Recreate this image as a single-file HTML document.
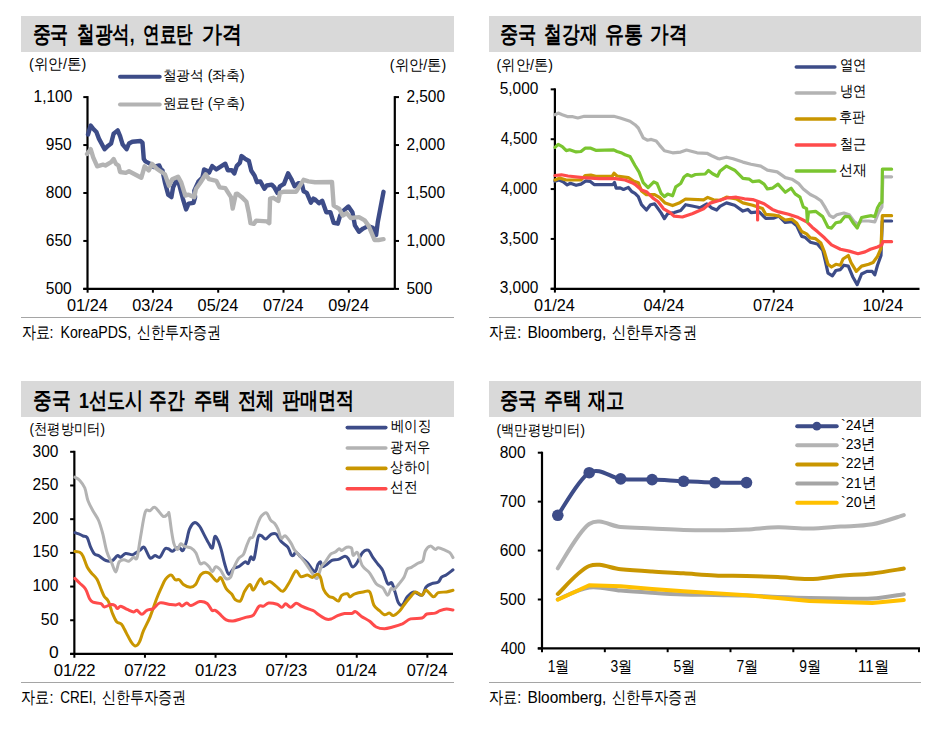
<!DOCTYPE html>
<html><head><meta charset="utf-8"><style>html,body{margin:0;padding:0;background:#fff;}svg{display:block;font-family:'Liberation Sans', sans-serif;}</style></head>
<body><svg width="935" height="735" viewBox="0 0 935 735">
<rect width="935" height="735" fill="#fff"/>
<rect x="21" y="16" width="433" height="36" fill="#d9d9d9"/>
<rect x="489" y="16" width="432" height="36" fill="#d9d9d9"/>
<rect x="21" y="381" width="433" height="36" fill="#d9d9d9"/>
<rect x="489" y="381" width="432" height="36" fill="#d9d9d9"/>
<text x="32.5" y="42.1" font-size="22.67" text-anchor="start" font-weight="bold" fill="#000" textLength="35.85" lengthAdjust="spacingAndGlyphs">중국</text>
<text x="77.2" y="42.1" font-size="22.67" text-anchor="start" font-weight="bold" fill="#000" textLength="57.42" lengthAdjust="spacingAndGlyphs">철광석,</text>
<text x="143.1" y="42.1" font-size="22.67" text-anchor="start" font-weight="bold" fill="#000" textLength="49.67" lengthAdjust="spacingAndGlyphs">연료탄</text>
<text x="202" y="42.1" font-size="22.67" text-anchor="start" font-weight="bold" fill="#000" textLength="39.93" lengthAdjust="spacingAndGlyphs">가격</text>
<text x="500" y="42.1" font-size="22.67" text-anchor="start" font-weight="bold" fill="#000" textLength="36.37" lengthAdjust="spacingAndGlyphs">중국</text>
<text x="544.3" y="42.1" font-size="22.67" text-anchor="start" font-weight="bold" fill="#000" textLength="53.14" lengthAdjust="spacingAndGlyphs">철강재</text>
<text x="604.8" y="42.1" font-size="22.67" text-anchor="start" font-weight="bold" fill="#000" textLength="38.07" lengthAdjust="spacingAndGlyphs">유통</text>
<text x="650.1" y="42.1" font-size="22.67" text-anchor="start" font-weight="bold" fill="#000" textLength="37.18" lengthAdjust="spacingAndGlyphs">가격</text>
<text x="32.8" y="407.9" font-size="22.67" text-anchor="start" font-weight="bold" fill="#000" textLength="37.42" lengthAdjust="spacingAndGlyphs">중국</text>
<text x="79" y="407.9" font-size="22.67" text-anchor="start" font-weight="bold" fill="#000" textLength="64.38" lengthAdjust="spacingAndGlyphs">1선도시</text>
<text x="149.3" y="407.9" font-size="22.67" text-anchor="start" font-weight="bold" fill="#000" textLength="35.34" lengthAdjust="spacingAndGlyphs">주간</text>
<text x="193.5" y="407.9" font-size="22.67" text-anchor="start" font-weight="bold" fill="#000" textLength="36.7" lengthAdjust="spacingAndGlyphs">주택</text>
<text x="237.5" y="407.9" font-size="22.67" text-anchor="start" font-weight="bold" fill="#000" textLength="36.79" lengthAdjust="spacingAndGlyphs">전체</text>
<text x="282" y="407.9" font-size="22.67" text-anchor="start" font-weight="bold" fill="#000" textLength="72.48" lengthAdjust="spacingAndGlyphs">판매면적</text>
<text x="500" y="407.7" font-size="22.67" text-anchor="start" font-weight="bold" fill="#000" textLength="36.76" lengthAdjust="spacingAndGlyphs">중국</text>
<text x="544.2" y="407.7" font-size="22.67" text-anchor="start" font-weight="bold" fill="#000" textLength="37.84" lengthAdjust="spacingAndGlyphs">주택</text>
<text x="588.1" y="407.7" font-size="22.67" text-anchor="start" font-weight="bold" fill="#000" textLength="36.69" lengthAdjust="spacingAndGlyphs">재고</text>
<line x1="21" y1="317.5" x2="454" y2="317.5" stroke="#A5A5A5" stroke-width="1"/>
<line x1="489" y1="317.5" x2="921" y2="317.5" stroke="#A5A5A5" stroke-width="1"/>
<line x1="21" y1="682.5" x2="454" y2="682.5" stroke="#A5A5A5" stroke-width="1"/>
<line x1="489" y1="682.5" x2="921" y2="682.5" stroke="#A5A5A5" stroke-width="1"/>
<line x1="87.5" y1="96.1" x2="87.5" y2="288.9" stroke="#000" stroke-width="2.2"/>
<line x1="83.3" y1="288.9" x2="394.8" y2="288.9" stroke="#000" stroke-width="2.2"/>
<line x1="394.8" y1="96.1" x2="394.8" y2="288.9" stroke="#000" stroke-width="2.2"/>
<line x1="83.3" y1="97.1" x2="87.5" y2="97.1" stroke="#000" stroke-width="2"/>
<line x1="394.8" y1="97.1" x2="399" y2="97.1" stroke="#000" stroke-width="2"/>
<line x1="83.3" y1="145.05" x2="87.5" y2="145.05" stroke="#000" stroke-width="2"/>
<line x1="394.8" y1="145.05" x2="399" y2="145.05" stroke="#000" stroke-width="2"/>
<line x1="83.3" y1="193.0" x2="87.5" y2="193.0" stroke="#000" stroke-width="2"/>
<line x1="394.8" y1="193.0" x2="399" y2="193.0" stroke="#000" stroke-width="2"/>
<line x1="83.3" y1="240.95000000000002" x2="87.5" y2="240.95000000000002" stroke="#000" stroke-width="2"/>
<line x1="394.8" y1="240.95000000000002" x2="399" y2="240.95000000000002" stroke="#000" stroke-width="2"/>
<line x1="83.3" y1="288.9" x2="87.5" y2="288.9" stroke="#000" stroke-width="2"/>
<line x1="394.8" y1="288.9" x2="399" y2="288.9" stroke="#000" stroke-width="2"/>
<line x1="87.6" y1="288.9" x2="87.6" y2="292.7" stroke="#000" stroke-width="2"/>
<line x1="152.89999999999998" y1="288.9" x2="152.89999999999998" y2="292.7" stroke="#000" stroke-width="2"/>
<line x1="218.2" y1="288.9" x2="218.2" y2="292.7" stroke="#000" stroke-width="2"/>
<line x1="283.5" y1="288.9" x2="283.5" y2="292.7" stroke="#000" stroke-width="2"/>
<line x1="348.79999999999995" y1="288.9" x2="348.79999999999995" y2="292.7" stroke="#000" stroke-width="2"/>
<polyline points="120.0,76.8 159.7,76.8" fill="none" stroke="#3D4C88" stroke-width="4" stroke-linejoin="round" stroke-linecap="round" />
<polyline points="120.0,104.6 159.7,104.6" fill="none" stroke="#B3B3B3" stroke-width="4" stroke-linejoin="round" stroke-linecap="round" />
<polyline points="88.0,134.5 90.7,125.5 93.2,128.8 96.4,132.0 98.9,138.6 104.6,149.2 107.9,145.9 111.1,143.5 113.6,133.7 117.7,130.4 120.1,136.1 122.6,144.3 126.6,149.2 129.0,143.5 132.3,141.8 140.5,141.0 142.5,142.7 143.8,159.0 145.4,161.4 150.3,163.9 153.6,167.0 159.3,165.5 161.7,171.2 162.4,170.2 164.9,182.4 168.2,194.7 171.4,197.1 173.1,187.3 176.3,180.8 178.8,183.3 182.9,198.8 186.1,209.4 188.6,203.7 193.5,202.9 195.1,197.1 194.3,190.6 198.4,181.6 202.4,177.6 204.1,169.4 207.3,171.0 209.0,172.7 212.2,166.1 216.3,169.4 225.3,163.7 227.8,170.2 231.8,170.2 234.3,173.5 236.7,166.1 239.9,162.7 241.5,156.1 244.8,158.6 248.9,161.0 251.3,170.8 254.6,175.7 257.0,182.2 260.3,181.4 264.4,188.8 266.8,185.5 271.7,184.7 274.2,187.1 277.4,192.9 279.9,186.3 284.0,183.9 288.1,173.3 291.3,179.0 294.6,186.3 298.7,183.1 301.9,183.9 303.6,191.2 306.8,192.9 310.9,202.7 313.4,198.6 315.0,200.2 314.9,199.2 319.0,203.3 322.2,200.8 326.3,212.2 330.4,212.2 333.7,222.9 337.8,223.7 340.2,215.5 343.5,210.6 348.4,206.5 352.4,212.2 354.9,225.3 359.0,231.8 363.1,228.6 368.0,226.1 372.9,227.8 376.1,235.1 377.8,222.0 383.5,191.8" fill="none" stroke="#3D4C88" stroke-width="4.4" stroke-linejoin="round" stroke-linecap="round" />
<polyline points="87.0,154.0 90.7,149.2 93.2,157.3 97.2,166.3 103.0,164.7 105.4,165.5 111.1,162.2 113.6,159.0 116.0,163.9 118.5,165.5 120.1,172.0 125.8,172.9 129.0,171.2 141.3,177.8 144.6,166.3 148.7,170.4 152.0,163.9 156.8,168.8 160.0,171.0 164.9,174.3 169.0,185.7 172.2,179.2 178.0,176.7 181.2,182.4 185.3,195.5 188.6,194.7 194.3,197.1 195.9,189.0 200.0,183.3 205.7,174.3 209.0,179.2 216.3,180.8 219.6,187.3 225.3,188.2 227.8,192.2 231.0,197.1 232.7,208.6 235.9,193.9 237.4,193.7 241.5,196.9 246.4,201.8 248.9,213.3 250.5,223.1 253.8,223.9 256.2,220.6 266.8,221.4 269.3,223.1 270.1,198.6 273.4,197.8 278.3,201.0 279.9,192.9 284.0,191.7 296.2,191.7 299.5,186.3 303.6,179.8 308.5,181.4 315.0,182.2 332.0,182.0 333.7,205.7 339.4,209.0 342.7,215.5 346.7,213.1 350.8,218.0 359.0,217.1 364.7,220.4 368.8,226.1 374.5,240.0 378.6,240.0 383.5,239.2" fill="none" stroke="#B3B3B3" stroke-width="4.4" stroke-linejoin="round" stroke-linecap="round" />
<line x1="554.9" y1="88.35" x2="554.9" y2="288.8" stroke="#000" stroke-width="2.2"/>
<line x1="550.6999999999999" y1="288.8" x2="919.5" y2="288.8" stroke="#000" stroke-width="2.2"/>
<line x1="550.6999999999999" y1="89.35" x2="554.9" y2="89.35" stroke="#000" stroke-width="2"/>
<line x1="550.6999999999999" y1="139.20999999999998" x2="554.9" y2="139.20999999999998" stroke="#000" stroke-width="2"/>
<line x1="550.6999999999999" y1="189.07" x2="554.9" y2="189.07" stroke="#000" stroke-width="2"/>
<line x1="550.6999999999999" y1="238.92999999999998" x2="554.9" y2="238.92999999999998" stroke="#000" stroke-width="2"/>
<line x1="550.6999999999999" y1="288.78999999999996" x2="554.9" y2="288.78999999999996" stroke="#000" stroke-width="2"/>
<line x1="554.9" y1="288.8" x2="554.9" y2="292.6" stroke="#000" stroke-width="2"/>
<line x1="664.3" y1="288.8" x2="664.3" y2="292.6" stroke="#000" stroke-width="2"/>
<line x1="773.7" y1="288.8" x2="773.7" y2="292.6" stroke="#000" stroke-width="2"/>
<line x1="883.1" y1="288.8" x2="883.1" y2="292.6" stroke="#000" stroke-width="2"/>
<polyline points="796.3,67.0 834.8,67.0" fill="none" stroke="#3D4C88" stroke-width="3.6" stroke-linejoin="round" stroke-linecap="round" />
<polyline points="796.3,93.0 834.8,93.0" fill="none" stroke="#B3B3B3" stroke-width="3.6" stroke-linejoin="round" stroke-linecap="round" />
<polyline points="796.3,119.0 834.8,119.0" fill="none" stroke="#C99600" stroke-width="3.6" stroke-linejoin="round" stroke-linecap="round" />
<polyline points="796.3,145.0 834.8,145.0" fill="none" stroke="#FF4B4B" stroke-width="3.6" stroke-linejoin="round" stroke-linecap="round" />
<polyline points="796.3,171.0 834.8,171.0" fill="none" stroke="#7AC530" stroke-width="3.6" stroke-linejoin="round" stroke-linecap="round" />
<polyline points="555.0,181.3 559.0,180.0 563.1,181.7 567.2,184.9 570.4,183.3 576.1,185.3 581.0,184.1 585.9,180.9 590.0,181.3 594.1,184.6 612.9,184.6 614.5,182.5 616.2,188.2 620.2,187.9 623.5,189.5 628.4,187.4 631.7,191.5 635.0,193.3 638.3,196.6 641.5,204.7 646.4,210.0 650.5,204.7 654.6,203.9 661.1,212.9 664.4,218.6 667.7,213.7 674.2,212.6 680.7,210.5 685.6,204.7 692.2,206.0 700.3,207.7 706.9,203.9 711.8,208.0 716.7,210.0 719.9,206.4 726.5,202.9 734.7,205.3 742.9,211.1 747.8,209.4 751.0,212.7 759.2,211.9 765.7,218.4 773.9,218.1 778.8,216.0 785.3,222.5 791.9,221.7 796.8,225.8 801.7,236.4 804.9,237.2 810.3,242.2 817.4,244.0 822.7,250.2 825.3,260.8 828.0,273.2 832.4,275.8 835.9,270.5 840.4,269.6 843.9,265.2 848.3,266.1 852.7,276.7 857.2,284.6 861.6,274.0 866.9,271.4 872.2,271.4 874.8,274.9 877.5,265.2 881.0,255.5 882.3,221.0 891.6,221.0" fill="none" stroke="#3D4C88" stroke-width="3.2" stroke-linejoin="round" stroke-linecap="round" />
<polyline points="555.0,114.7 558.2,113.1 562.3,114.7 568.0,116.7 572.9,116.7 577.8,118.0 584.3,116.3 613.7,116.3 620.2,118.0 630.0,121.2 635.0,124.7 638.3,128.0 643.2,137.8 647.3,140.2 651.3,139.4 656.2,141.0 659.5,145.1 664.4,150.8 672.6,152.8 680.7,152.1 686.5,150.0 697.1,152.8 706.9,153.3 711.8,155.7 718.3,158.7 720.0,158.8 726.5,157.2 733.1,158.8 742.9,162.1 751.0,164.2 760.8,166.1 767.4,170.2 777.2,171.9 785.3,177.6 791.9,179.2 798.4,183.3 803.3,189.0 810.3,194.5 815.6,197.1 820.9,200.7 825.3,207.7 829.8,215.7 833.3,217.5 836.8,214.8 843.9,213.0 849.2,214.8 854.5,221.9 858.0,224.0 861.6,221.0 868.7,221.0 874.8,221.9 878.4,213.0 881.9,206.9 882.8,176.8 891.6,176.8" fill="none" stroke="#B3B3B3" stroke-width="3.2" stroke-linejoin="round" stroke-linecap="round" />
<polyline points="555.0,180.0 559.8,178.1 566.3,180.0 581.0,180.0 585.1,175.5 590.8,175.1 595.7,176.4 612.1,176.4 614.0,173.2 617.0,176.0 628.4,177.6 633.3,180.9 638.3,182.7 641.5,190.9 646.4,194.6 654.6,194.6 659.5,197.4 665.2,203.1 672.6,205.6 679.1,203.1 685.6,199.0 703.6,199.8 707.7,197.4 713.4,199.8 720.0,200.4 726.5,197.2 736.3,198.8 742.9,202.9 752.7,205.3 762.5,208.6 765.7,214.3 773.9,215.1 778.8,216.0 785.3,220.0 791.9,219.2 796.8,223.3 801.7,231.5 806.6,233.9 810.3,237.8 815.6,238.7 820.9,243.1 824.4,251.9 828.0,264.3 831.5,267.0 835.9,264.3 840.4,265.2 843.0,259.0 848.3,255.5 851.0,262.5 856.3,271.4 861.6,266.1 868.7,264.3 873.1,262.5 877.5,256.4 881.0,248.4 882.3,215.7 891.6,215.7" fill="none" stroke="#C99600" stroke-width="3.2" stroke-linejoin="round" stroke-linecap="round" />
<polyline points="555.0,175.5 561.4,174.8 568.0,176.0 582.7,177.6 599.0,178.7 615.3,178.7 625.1,180.0 633.3,183.3 635.0,184.3 641.5,190.0 646.4,191.7 653.0,198.2 657.9,201.5 663.6,208.8 669.3,212.1 674.2,216.2 682.4,217.0 692.2,213.7 703.6,208.8 710.1,203.1 718.3,200.7 726.5,198.0 736.3,197.2 744.5,198.8 752.7,199.6 757.6,201.3 757.6,220.0 757.6,201.3 764.1,203.7 772.3,209.4 778.8,211.9 788.6,214.3 798.4,217.6 806.6,221.7 812.1,227.2 817.4,231.6 824.4,237.8 831.5,244.9 840.4,249.3 849.2,251.1 858.0,253.7 865.1,251.9 870.4,249.3 877.5,247.0 881.9,244.9 882.8,241.7 891.6,241.7" fill="none" stroke="#FF4B4B" stroke-width="3.2" stroke-linejoin="round" stroke-linecap="round" />
<polyline points="555.0,147.4 558.2,144.4 562.3,146.6 566.3,150.6 569.6,149.8 576.1,151.9 581.0,151.5 585.1,148.2 590.8,148.2 595.7,150.3 613.7,149.8 617.0,151.5 621.9,153.1 625.1,154.7 630.0,156.4 635.0,165.5 639.1,172.1 643.2,182.7 648.1,187.6 653.8,181.9 657.1,183.5 661.1,193.3 664.4,196.6 667.7,194.1 672.6,195.8 675.8,186.8 680.7,183.5 684.0,177.0 687.3,174.5 691.4,176.2 695.4,174.5 705.2,174.0 708.5,170.4 712.6,173.7 717.5,176.2 719.9,171.3 726.5,166.1 734.7,170.2 742.9,178.4 749.4,179.2 752.7,181.7 759.2,180.8 764.1,184.1 767.4,189.0 772.3,188.2 778.0,184.1 785.3,192.3 791.1,188.2 795.1,193.9 800.0,197.2 803.3,207.0 806.6,208.6 807.4,221.7 808.5,212.2 815.6,211.3 822.7,216.6 828.0,227.2 831.5,228.1 835.9,222.8 840.4,221.9 844.8,216.6 849.2,216.6 853.6,223.6 857.2,228.1 861.6,217.5 866.0,216.6 871.3,215.7 874.8,216.6 877.5,207.7 880.1,203.3 881.9,202.4 882.4,169.2 891.6,169.2" fill="none" stroke="#7AC530" stroke-width="3.2" stroke-linejoin="round" stroke-linecap="round" />
<line x1="74.35" y1="450.8" x2="74.35" y2="653.95" stroke="#000" stroke-width="2.2"/>
<line x1="70.14999999999999" y1="653.95" x2="453" y2="653.95" stroke="#000" stroke-width="2.2"/>
<line x1="70.14999999999999" y1="451.8" x2="74.35" y2="451.8" stroke="#000" stroke-width="2"/>
<line x1="70.14999999999999" y1="485.49" x2="74.35" y2="485.49" stroke="#000" stroke-width="2"/>
<line x1="70.14999999999999" y1="519.1800000000001" x2="74.35" y2="519.1800000000001" stroke="#000" stroke-width="2"/>
<line x1="70.14999999999999" y1="552.87" x2="74.35" y2="552.87" stroke="#000" stroke-width="2"/>
<line x1="70.14999999999999" y1="586.56" x2="74.35" y2="586.56" stroke="#000" stroke-width="2"/>
<line x1="70.14999999999999" y1="620.25" x2="74.35" y2="620.25" stroke="#000" stroke-width="2"/>
<line x1="70.14999999999999" y1="653.94" x2="74.35" y2="653.94" stroke="#000" stroke-width="2"/>
<line x1="74.35" y1="653.95" x2="74.35" y2="657.75" stroke="#000" stroke-width="2"/>
<line x1="144.95" y1="653.95" x2="144.95" y2="657.75" stroke="#000" stroke-width="2"/>
<line x1="215.54999999999998" y1="653.95" x2="215.54999999999998" y2="657.75" stroke="#000" stroke-width="2"/>
<line x1="286.15" y1="653.95" x2="286.15" y2="657.75" stroke="#000" stroke-width="2"/>
<line x1="356.75" y1="653.95" x2="356.75" y2="657.75" stroke="#000" stroke-width="2"/>
<line x1="427.35" y1="653.95" x2="427.35" y2="657.75" stroke="#000" stroke-width="2"/>
<polyline points="347.3,427.6 385.8,427.6" fill="none" stroke="#3D4C88" stroke-width="3.6" stroke-linejoin="round" stroke-linecap="round" />
<polyline points="347.3,448.0 385.8,448.0" fill="none" stroke="#B3B3B3" stroke-width="3.6" stroke-linejoin="round" stroke-linecap="round" />
<polyline points="347.3,468.4 385.8,468.4" fill="none" stroke="#C99600" stroke-width="3.6" stroke-linejoin="round" stroke-linecap="round" />
<polyline points="347.3,488.8 385.8,488.8" fill="none" stroke="#FF4B4B" stroke-width="3.6" stroke-linejoin="round" stroke-linecap="round" />
<path d="M74.9,532.7 C75.7,533.0 78.4,533.8 79.8,534.3 C81.2,534.8 81.9,535.5 83.1,536.0 C84.3,536.5 86.0,535.8 87.2,537.6 C88.4,539.4 89.2,543.9 90.4,546.6 C91.6,549.3 93.1,552.5 94.5,554.0 C95.9,555.5 96.7,554.5 98.6,555.6 C100.5,556.7 103.6,559.7 105.9,560.5 C108.2,561.3 110.6,561.3 112.5,560.5 C114.4,559.7 116.0,556.1 117.4,555.6 C118.8,555.1 119.3,557.6 120.7,557.2 C122.1,556.9 123.7,553.9 125.6,553.5 C127.5,553.1 130.5,554.9 132.1,554.8 C133.7,554.7 134.0,553.9 135.4,553.1 C136.8,552.3 138.8,550.9 140.3,549.9 C141.8,548.9 142.7,546.0 144.3,547.4 C145.9,548.8 148.3,556.6 150.1,558.0 C151.9,559.4 153.4,555.7 155.0,555.6 C156.6,555.5 158.3,558.3 159.9,557.2 C161.5,556.1 163.4,550.4 164.8,549.0 C166.2,547.6 167.0,548.4 168.3,548.8 C169.6,549.2 171.1,551.4 172.4,551.3 C173.8,551.2 175.2,548.5 176.4,548.0 C177.6,547.5 178.6,547.6 179.7,548.0 C180.8,548.4 181.9,551.5 183.0,550.5 C184.1,549.5 185.1,545.8 186.2,542.3 C187.3,538.8 188.1,532.5 189.5,529.2 C190.9,525.9 192.8,523.2 194.4,522.7 C196.0,522.2 197.7,523.9 199.3,525.9 C200.9,527.9 202.6,531.9 204.2,534.9 C205.8,537.9 207.7,541.7 209.1,543.9 C210.5,546.1 211.4,549.2 212.4,548.0 C213.4,546.8 213.9,537.8 214.8,536.6 C215.8,535.4 217.0,538.4 218.1,540.7 C219.2,543.0 220.3,546.7 221.4,550.5 C222.5,554.3 223.4,559.5 224.6,563.5 C225.8,567.5 227.2,573.4 228.7,574.2 C230.2,575.0 232.0,569.6 233.6,568.4 C235.2,567.2 236.6,567.9 238.5,566.8 C240.4,565.7 243.5,562.4 245.1,561.9 C246.7,561.4 247.4,564.3 248.3,563.5 C249.2,562.7 249.8,557.8 250.8,557.0 C251.8,556.2 252.9,561.9 254.1,558.6 C255.3,555.3 256.9,541.2 258.1,537.4 C259.3,533.6 260.1,535.5 261.4,535.8 C262.7,536.1 264.0,539.3 265.7,539.0 C267.4,538.7 269.6,534.9 271.4,534.1 C273.2,533.3 274.7,532.9 276.3,534.1 C277.9,535.3 279.3,539.3 281.2,541.5 C283.1,543.7 286.2,545.0 287.8,547.2 C289.4,549.4 290.1,553.1 291.0,554.5 C291.9,555.9 292.7,555.8 293.5,555.4 C294.3,555.0 294.7,551.8 295.9,552.1 C297.1,552.4 298.9,555.2 300.8,557.0 C302.7,558.8 305.1,560.2 307.4,562.7 C309.7,565.2 312.9,571.4 314.7,571.7 C316.5,572.0 317.0,565.9 318.0,564.3 C319.0,562.7 319.8,561.5 320.5,561.9 C321.2,562.3 321.0,566.4 322.1,566.8 C323.2,567.2 325.4,565.4 327.0,564.3 C328.6,563.2 330.0,561.1 331.9,560.3 C333.8,559.5 336.2,560.1 338.4,559.4 C340.6,558.7 343.4,556.3 345.0,556.2 C346.6,556.1 347.0,556.8 348.2,558.6 C349.4,560.4 350.9,566.0 352.3,566.8 C353.7,567.6 354.9,565.6 356.6,563.3 C358.3,560.9 360.5,554.9 362.4,552.7 C364.3,550.5 366.3,549.4 368.1,550.2 C369.9,551.0 371.4,555.3 373.0,557.6 C374.6,559.9 376.3,561.9 377.9,564.1 C379.5,566.3 381.2,567.4 382.8,570.7 C384.4,574.0 386.2,581.7 387.7,583.7 C389.2,585.7 390.6,581.5 391.8,582.9 C393.0,584.3 393.9,588.6 395.0,591.9 C396.1,595.2 397.1,600.3 398.3,602.5 C399.5,604.7 400.9,606.0 402.4,605.0 C403.9,604.0 405.4,599.0 407.3,596.8 C409.2,594.6 411.4,592.2 413.8,591.9 C416.2,591.6 419.9,596.0 422.0,595.2 C424.1,594.4 424.5,588.9 426.1,587.0 C427.7,585.1 429.8,584.5 431.8,583.7 C433.8,582.9 436.7,583.2 438.3,582.1 C439.9,581.0 440.2,578.4 441.6,577.2 C443.0,576.0 444.6,575.9 446.5,574.7 C448.4,573.5 451.9,570.6 453.0,569.8" fill="none" stroke="#3D4C88" stroke-width="3" stroke-linejoin="round" stroke-linecap="round"/>
<path d="M74.9,477.2 C75.7,477.7 78.2,478.6 79.8,480.4 C81.4,482.2 83.3,484.4 84.7,487.8 C86.1,491.2 86.6,497.0 88.0,500.8 C89.4,504.6 91.1,507.4 92.9,510.7 C94.7,514.0 97.0,516.7 98.6,520.5 C100.2,524.3 101.3,528.3 102.7,533.5 C104.1,538.7 105.3,546.6 106.8,551.5 C108.3,556.4 110.2,559.5 111.7,562.9 C113.2,566.3 114.6,572.0 115.8,571.9 C117.0,571.8 117.7,564.1 119.0,562.1 C120.3,560.1 122.3,559.8 123.9,559.7 C125.5,559.6 127.2,561.7 128.8,561.3 C130.4,560.9 132.3,557.8 133.7,557.2 C135.1,556.7 135.9,561.1 137.0,558.0 C138.1,554.9 138.9,546.0 140.3,538.4 C141.7,530.8 143.6,516.9 145.2,512.3 C146.8,507.7 148.5,511.5 150.1,510.7 C151.7,509.9 152.8,506.4 155.0,507.4 C157.2,508.3 160.9,515.3 163.1,516.4 C165.3,517.5 167.0,514.3 168.0,513.9 C169.0,513.5 168.5,510.9 169.1,513.7 C169.7,516.5 170.7,525.8 171.5,530.8 C172.3,535.8 173.0,540.8 174.0,543.9 C175.0,547.0 176.2,549.6 177.3,549.6 C178.4,549.6 179.3,544.4 180.5,543.9 C181.7,543.4 182.8,545.7 184.6,546.4 C186.4,547.1 189.2,546.9 191.1,548.0 C193.0,549.1 194.5,550.3 196.0,552.9 C197.5,555.5 198.7,561.9 200.1,563.5 C201.5,565.1 202.7,562.2 204.2,562.7 C205.7,563.2 207.7,565.3 209.1,566.8 C210.5,568.3 211.3,571.7 212.4,571.7 C213.5,571.7 214.3,567.1 215.7,566.8 C217.1,566.5 219.0,568.2 220.6,570.1 C222.2,572.0 223.9,577.0 225.5,578.2 C227.1,579.4 229.1,579.0 230.4,577.4 C231.8,575.8 232.2,571.5 233.6,568.4 C234.9,565.3 236.9,560.9 238.5,558.6 C240.1,556.3 242.0,556.7 243.4,554.5 C244.8,552.3 245.6,548.3 246.7,545.6 C247.8,542.9 248.9,539.7 250.0,538.2 C251.1,536.7 251.8,539.2 253.2,536.6 C254.5,534.0 256.7,526.1 258.1,522.7 C259.5,519.3 260.0,517.7 261.4,516.1 C262.8,514.5 265.0,512.2 266.5,512.9 C268.0,513.6 269.2,518.4 270.6,520.2 C272.0,522.0 273.5,522.0 274.7,523.5 C275.9,525.0 276.9,526.8 278.0,529.2 C279.1,531.7 280.0,537.1 281.2,538.2 C282.4,539.3 283.7,535.0 285.3,535.8 C286.9,536.6 289.5,540.8 291.0,543.1 C292.5,545.4 292.9,547.6 294.3,549.6 C295.7,551.6 297.3,553.1 299.2,555.4 C301.1,557.7 303.6,560.5 305.8,563.5 C308.0,566.5 310.4,570.8 312.3,573.3 C314.2,575.8 315.7,579.3 317.2,578.2 C318.7,577.1 319.9,569.5 321.3,566.8 C322.7,564.1 323.9,563.9 325.4,561.9 C326.9,559.9 328.7,556.1 330.3,554.5 C331.9,552.9 333.7,553.1 335.2,552.1 C336.7,551.1 338.1,549.1 339.2,548.8 C340.3,548.5 340.5,550.8 341.7,550.5 C342.9,550.2 345.0,547.6 346.6,547.2 C348.2,546.8 350.4,546.6 351.5,548.0 C352.6,549.4 352.1,554.6 353.1,555.4 C354.1,556.2 355.9,551.0 357.5,552.7 C359.1,554.4 360.4,562.4 362.4,565.8 C364.4,569.2 367.4,570.1 369.7,573.1 C372.0,576.1 374.0,581.2 376.2,583.7 C378.4,586.2 380.9,585.9 382.8,587.8 C384.7,589.7 386.3,595.1 387.7,595.2 C389.1,595.3 389.9,589.6 391.0,588.6 C392.1,587.6 392.8,590.2 394.2,589.4 C395.6,588.6 397.5,585.7 399.1,583.7 C400.7,581.7 402.6,579.7 404.0,577.2 C405.4,574.8 406.1,570.6 407.3,569.0 C408.5,567.4 409.6,568.4 411.4,567.4 C413.2,566.4 416.0,564.4 417.9,563.3 C419.8,562.2 421.6,562.8 422.8,560.8 C424.0,558.8 424.1,553.5 425.3,551.0 C426.5,548.5 428.6,546.4 430.2,546.1 C431.8,545.8 433.8,549.1 435.1,549.4 C436.5,549.7 436.7,547.7 438.3,547.8 C439.9,547.9 443.0,549.4 444.9,550.2 C446.8,551.0 448.4,551.5 449.8,552.7 C451.2,553.9 452.5,556.8 453.0,557.6" fill="none" stroke="#B3B3B3" stroke-width="3" stroke-linejoin="round" stroke-linecap="round"/>
<path d="M74.9,551.4 C75.7,551.5 78.4,551.5 79.8,552.3 C81.2,553.1 81.9,553.8 83.1,556.3 C84.3,558.8 85.8,564.3 87.2,567.0 C88.6,569.7 89.6,570.7 91.2,572.7 C92.8,574.7 95.4,576.5 97.0,579.2 C98.6,581.9 99.8,586.1 101.0,589.0 C102.2,591.9 103.1,594.4 104.3,596.4 C105.5,598.4 107.0,598.4 108.4,601.3 C109.8,604.1 111.1,610.1 112.5,613.5 C113.9,616.9 115.1,619.9 116.6,621.7 C118.1,623.5 119.9,622.3 121.5,624.2 C123.1,626.1 124.8,630.1 126.4,633.1 C128.0,636.1 129.8,640.0 131.3,642.1 C132.8,644.2 134.1,645.9 135.4,645.9 C136.8,645.9 138.1,644.6 139.4,642.1 C140.8,639.6 141.7,634.9 143.5,630.7 C145.3,626.5 147.9,622.1 150.1,616.8 C152.3,611.5 154.7,603.7 156.6,598.8 C158.5,593.9 160.0,590.7 161.5,587.4 C163.0,584.1 164.0,581.3 165.6,579.2 C167.2,577.1 169.5,574.9 171.1,575.0 C172.7,575.1 173.8,578.9 175.2,579.7 C176.6,580.5 177.9,578.9 179.3,579.7 C180.7,580.5 181.6,583.2 183.4,584.5 C185.2,585.8 188.2,587.2 190.2,587.2 C192.2,587.2 193.8,586.6 195.6,584.5 C197.4,582.4 198.9,576.2 201.1,574.3 C203.2,572.4 205.9,571.8 208.5,572.9 C211.1,574.0 214.6,580.3 216.7,581.1 C218.8,581.9 219.2,576.5 220.8,577.7 C222.4,579.0 224.4,585.9 226.2,588.6 C228.0,591.3 230.2,592.2 231.7,594.0 C233.2,595.8 233.6,598.4 235.1,599.5 C236.6,600.6 238.9,602.2 240.5,600.8 C242.1,599.4 243.0,594.0 244.6,591.3 C246.2,588.6 248.5,584.7 250.0,584.5 C251.5,584.3 251.7,590.8 253.4,589.9 C255.1,589.0 258.4,580.0 260.2,579.0 C262.0,578.0 262.5,583.6 264.1,584.0 C265.7,584.4 267.8,581.1 269.8,581.5 C271.8,581.9 274.1,584.8 276.3,586.4 C278.5,588.0 280.7,592.0 282.9,591.3 C285.1,590.6 287.2,585.7 289.4,582.3 C291.6,578.9 294.0,571.8 295.9,570.9 C297.8,570.0 298.9,575.9 300.8,576.6 C302.7,577.3 305.5,574.9 307.4,575.0 C309.3,575.1 310.7,577.5 312.3,577.4 C313.9,577.3 315.8,574.2 317.2,574.2 C318.6,574.2 319.4,574.8 320.5,577.4 C321.6,580.0 322.3,586.6 323.7,589.7 C325.1,592.8 327.0,594.9 328.6,596.2 C330.2,597.6 331.9,597.0 333.5,597.8 C335.1,598.6 337.0,601.5 338.4,601.1 C339.8,600.7 340.2,596.6 341.7,595.4 C343.2,594.2 346.0,593.5 347.4,593.8 C348.8,594.1 348.7,597.0 349.9,597.0 C351.1,597.0 352.6,594.6 354.8,593.8 C357.0,592.9 360.7,592.2 363.2,591.9 C365.7,591.6 367.9,589.7 369.7,591.9 C371.5,594.1 372.2,601.9 373.8,605.0 C375.4,608.1 377.7,609.1 379.5,610.7 C381.3,612.3 382.8,614.4 384.4,614.8 C386.0,615.2 387.8,613.0 389.3,613.1 C390.8,613.2 391.8,615.9 393.4,615.6 C395.0,615.3 397.3,613.3 399.1,611.5 C400.9,609.7 402.1,607.5 404.0,605.0 C405.9,602.5 408.7,599.0 410.6,596.8 C412.5,594.6 413.6,592.2 415.5,591.9 C417.4,591.6 420.2,595.5 422.0,595.2 C423.8,594.9 424.2,590.0 426.1,590.3 C428.0,590.6 431.4,596.4 433.4,596.8 C435.4,597.2 436.1,593.5 438.3,592.7 C440.5,591.9 444.1,592.3 446.5,591.9 C448.9,591.5 451.9,590.6 453.0,590.3" fill="none" stroke="#C99600" stroke-width="3" stroke-linejoin="round" stroke-linecap="round"/>
<path d="M74.9,578.4 C75.7,579.2 78.0,581.5 79.8,583.3 C81.6,585.1 83.9,586.4 85.5,589.0 C87.1,591.6 88.4,596.6 89.6,598.8 C90.8,601.0 91.0,601.3 92.9,602.1 C94.8,602.9 99.1,602.9 101.0,603.7 C102.9,604.5 102.7,606.9 104.3,607.0 C105.9,607.1 109.0,604.8 110.8,604.5 C112.6,604.2 113.8,604.7 114.9,605.4 C116.0,606.1 116.4,608.5 117.4,608.6 C118.4,608.7 119.1,606.1 120.7,606.2 C122.3,606.3 125.0,608.5 127.2,609.4 C129.4,610.3 132.1,611.8 133.7,611.9 C135.3,612.0 135.6,609.9 137.0,610.3 C138.4,610.7 140.3,614.3 141.9,614.3 C143.5,614.3 144.9,611.2 146.8,610.3 C148.7,609.3 151.1,609.8 153.3,608.6 C155.5,607.4 157.1,603.6 159.9,602.9 C162.7,602.2 167.3,604.2 170.0,604.5 C172.7,604.8 174.3,605.0 175.9,604.9 C177.5,604.8 178.3,603.6 179.3,603.8 C180.3,604.0 180.8,606.1 182.0,606.0 C183.2,605.9 185.3,603.0 186.8,602.9 C188.3,602.8 188.8,605.8 190.9,605.6 C193.1,605.4 197.0,601.9 199.7,601.5 C202.4,601.1 205.2,602.0 207.2,603.5 C209.2,605.0 210.6,609.2 211.9,610.3 C213.2,611.4 214.1,609.7 215.3,610.3 C216.6,610.9 217.6,612.1 219.4,613.7 C221.2,615.3 223.9,618.7 226.2,619.9 C228.5,621.1 230.7,621.1 233.0,621.0 C235.3,620.9 237.5,619.9 239.8,619.2 C242.1,618.6 244.3,617.8 246.6,617.1 C248.9,616.4 251.4,616.9 253.4,615.1 C255.4,613.3 257.2,607.8 258.9,606.3 C260.6,604.8 262.1,606.6 263.7,606.1 C265.3,605.6 266.4,603.3 268.6,603.0 C270.8,602.7 274.9,603.6 277.1,604.3 C279.3,605.0 280.6,607.4 282.0,607.3 C283.4,607.2 284.3,603.7 285.7,603.7 C287.1,603.7 288.9,607.4 290.6,607.3 C292.3,607.2 294.3,603.5 296.1,603.3 C297.9,603.1 299.5,605.1 301.6,606.1 C303.8,607.1 306.9,608.4 309.0,609.2 C311.1,610.0 312.3,610.1 313.9,611.0 C315.5,611.9 316.8,613.4 318.8,614.7 C320.8,616.0 324.1,618.3 326.1,619.0 C328.1,619.7 329.2,619.5 331.0,619.0 C332.8,618.5 334.9,616.8 337.1,615.9 C339.4,615.0 342.1,613.9 344.5,613.5 C346.9,613.1 350.0,613.8 351.8,613.5 C353.6,613.2 353.9,611.1 355.5,611.6 C357.1,612.1 359.1,614.8 361.5,616.4 C363.9,618.0 367.2,619.5 369.7,621.3 C372.1,623.1 373.8,625.8 376.2,627.0 C378.6,628.2 381.7,628.7 384.4,628.7 C387.1,628.7 389.6,627.8 392.6,627.0 C395.6,626.2 399.4,625.1 402.4,623.8 C405.4,622.4 407.3,619.9 410.6,618.9 C413.9,617.9 419.3,618.8 422.0,618.0 C424.7,617.2 424.7,614.8 426.9,614.0 C429.1,613.2 432.9,613.6 435.1,613.1 C437.3,612.6 438.1,611.4 440.0,610.7 C441.9,610.0 444.3,609.2 446.5,609.1 C448.7,609.0 451.9,609.8 453.0,609.9" fill="none" stroke="#FF4B4B" stroke-width="3" stroke-linejoin="round" stroke-linecap="round"/>
<line x1="542" y1="451.7" x2="542" y2="648.4" stroke="#000" stroke-width="2.2"/>
<line x1="537.8" y1="648.4" x2="920" y2="648.4" stroke="#000" stroke-width="2.2"/>
<line x1="537.8" y1="452.7" x2="542" y2="452.7" stroke="#000" stroke-width="2"/>
<line x1="537.8" y1="501.63" x2="542" y2="501.63" stroke="#000" stroke-width="2"/>
<line x1="537.8" y1="550.56" x2="542" y2="550.56" stroke="#000" stroke-width="2"/>
<line x1="537.8" y1="599.49" x2="542" y2="599.49" stroke="#000" stroke-width="2"/>
<line x1="537.8" y1="648.42" x2="542" y2="648.42" stroke="#000" stroke-width="2"/>
<line x1="542.0" y1="648.4" x2="542.0" y2="652.1999999999999" stroke="#000" stroke-width="2"/>
<line x1="604.83" y1="648.4" x2="604.83" y2="652.1999999999999" stroke="#000" stroke-width="2"/>
<line x1="667.66" y1="648.4" x2="667.66" y2="652.1999999999999" stroke="#000" stroke-width="2"/>
<line x1="730.49" y1="648.4" x2="730.49" y2="652.1999999999999" stroke="#000" stroke-width="2"/>
<line x1="793.3199999999999" y1="648.4" x2="793.3199999999999" y2="652.1999999999999" stroke="#000" stroke-width="2"/>
<line x1="856.15" y1="648.4" x2="856.15" y2="652.1999999999999" stroke="#000" stroke-width="2"/>
<line x1="918.98" y1="648.4" x2="918.98" y2="652.1999999999999" stroke="#000" stroke-width="2"/>
<path d="M557.8,515.3 C563.0,508.2 578.8,478.8 589.2,472.7 C599.7,466.6 610.2,477.8 620.7,478.9 C631.2,480.0 641.7,479.2 652.1,479.6 C662.6,480.0 673.1,480.8 683.6,481.3 C694.1,481.8 704.6,482.4 715.0,482.6 C725.5,482.8 741.3,482.6 746.5,482.6" fill="none" stroke="#3D4C88" stroke-width="4" stroke-linejoin="round" stroke-linecap="round"/>
<circle cx="557.8" cy="515.3" r="5.8" fill="#3D4C88"/>
<circle cx="589.2" cy="472.7" r="5.8" fill="#3D4C88"/>
<circle cx="620.7" cy="478.9" r="5.8" fill="#3D4C88"/>
<circle cx="652.1" cy="479.6" r="5.8" fill="#3D4C88"/>
<circle cx="683.6" cy="481.3" r="5.8" fill="#3D4C88"/>
<circle cx="715.0" cy="482.6" r="5.8" fill="#3D4C88"/>
<circle cx="746.5" cy="482.6" r="5.8" fill="#3D4C88"/>
<path d="M557.8,568.3 C563.0,560.9 578.8,530.9 589.2,524.0 C599.7,517.1 610.2,526.2 620.7,527.0 C631.2,527.8 641.7,528.0 652.1,528.5 C662.6,529.0 673.1,529.7 683.6,530.0 C694.1,530.3 704.6,530.4 715.0,530.3 C725.5,530.2 736.0,530.0 746.5,529.5 C757.0,529.0 767.5,527.4 777.9,527.3 C788.4,527.1 798.9,528.7 809.4,528.6 C819.9,528.5 830.4,527.3 840.8,526.6 C851.3,525.9 861.8,526.2 872.3,524.3 C882.8,522.4 898.5,516.6 903.8,515.1" fill="none" stroke="#B3B3B3" stroke-width="4" stroke-linejoin="round" stroke-linecap="round"/>
<path d="M557.8,594.0 C563.0,589.3 578.8,570.1 589.2,566.0 C599.7,561.9 610.2,568.3 620.7,569.2 C631.2,570.1 641.7,570.8 652.1,571.5 C662.6,572.2 673.1,572.6 683.6,573.3 C694.1,574.0 704.6,575.0 715.0,575.5 C725.5,576.0 736.0,575.7 746.5,576.0 C757.0,576.3 767.5,576.6 777.9,577.1 C788.4,577.6 798.9,579.3 809.4,579.1 C819.9,578.9 830.4,576.7 840.8,575.7 C851.3,574.8 861.8,574.6 872.3,573.4 C882.8,572.2 898.5,569.4 903.8,568.6" fill="none" stroke="#C99600" stroke-width="4" stroke-linejoin="round" stroke-linecap="round"/>
<path d="M557.8,599.3 C563.0,597.3 578.8,588.8 589.2,587.4 C599.7,586.0 610.2,589.7 620.7,590.6 C631.2,591.5 641.7,592.1 652.1,592.7 C662.6,593.4 673.1,594.1 683.6,594.5 C694.1,594.9 704.6,594.8 715.0,595.0 C725.5,595.2 736.0,595.2 746.5,595.5 C757.0,595.8 767.5,596.6 777.9,597.0 C788.4,597.4 798.9,597.8 809.4,598.0 C819.9,598.2 830.4,598.4 840.8,598.5 C851.3,598.6 861.8,599.3 872.3,598.6 C882.8,597.9 898.5,595.0 903.8,594.3" fill="none" stroke="#A5A5A5" stroke-width="4" stroke-linejoin="round" stroke-linecap="round"/>
<polyline points="557.8,599.7 589.2,585.2 620.7,586.3 652.1,588.9 683.6,591.2 715.0,593.3 746.5,595.3 777.9,598.0 809.4,600.9 840.8,602.0 872.3,602.9 903.8,600.0" fill="none" stroke="#FFC000" stroke-width="4" stroke-linejoin="round" stroke-linecap="round" />
<polyline points="797.2,426.2 836.7,426.2" fill="none" stroke="#3D4C88" stroke-width="4" stroke-linejoin="round" stroke-linecap="round" />
<polyline points="797.2,445.3 836.7,445.3" fill="none" stroke="#B3B3B3" stroke-width="4" stroke-linejoin="round" stroke-linecap="round" />
<polyline points="797.2,464.5 836.7,464.5" fill="none" stroke="#C99600" stroke-width="4" stroke-linejoin="round" stroke-linecap="round" />
<polyline points="797.2,483.6 836.7,483.6" fill="none" stroke="#A5A5A5" stroke-width="4" stroke-linejoin="round" stroke-linecap="round" />
<polyline points="797.2,502.8 836.7,502.8" fill="none" stroke="#FFC000" stroke-width="4" stroke-linejoin="round" stroke-linecap="round" />
<circle cx="816.8" cy="426.2" r="4.4" fill="#3D4C88"/>
<text x="29.1" y="69.4" font-size="14.8" text-anchor="start" font-weight="normal" fill="#000" textLength="57.25" lengthAdjust="spacingAndGlyphs">(위안/톤)</text>
<text x="389.8" y="70.2" font-size="14.8" text-anchor="start" font-weight="normal" fill="#000" textLength="56.45" lengthAdjust="spacingAndGlyphs">(위안/톤)</text>
<text x="496.6" y="70.2" font-size="14.8" text-anchor="start" font-weight="normal" fill="#000" textLength="56.24" lengthAdjust="spacingAndGlyphs">(위안/톤)</text>
<text x="29.6" y="433.75" font-size="15.3" text-anchor="start" font-weight="normal" fill="#000" textLength="75.54" lengthAdjust="spacingAndGlyphs">(천평방미터)</text>
<text x="496.6" y="434.9" font-size="15.3" text-anchor="start" font-weight="normal" fill="#000" textLength="88.54" lengthAdjust="spacingAndGlyphs">(백만평방미터)</text>
<text x="162.6" y="80.3" font-size="14.2" text-anchor="start" font-weight="normal" fill="#000" textLength="82.06" lengthAdjust="spacingAndGlyphs">철광석 (좌축)</text>
<text x="162.6" y="108.35" font-size="14.2" text-anchor="start" font-weight="normal" fill="#000" textLength="82.06" lengthAdjust="spacingAndGlyphs">원료탄 (우축)</text>
<text x="839.9" y="69.85" font-size="15.2" text-anchor="start" font-weight="normal" fill="#000" textLength="26.74" lengthAdjust="spacingAndGlyphs">열연</text>
<text x="839.9" y="96.3" font-size="15.2" text-anchor="start" font-weight="normal" fill="#000" textLength="26.74" lengthAdjust="spacingAndGlyphs">냉연</text>
<text x="839.2" y="121.85" font-size="15.2" text-anchor="start" font-weight="normal" fill="#000" textLength="26.53" lengthAdjust="spacingAndGlyphs">후판</text>
<text x="839.7" y="148.65" font-size="15.2" text-anchor="start" font-weight="normal" fill="#000" textLength="26.56" lengthAdjust="spacingAndGlyphs">철근</text>
<text x="839.3" y="175.0" font-size="15.2" text-anchor="start" font-weight="normal" fill="#000" textLength="27.98" lengthAdjust="spacingAndGlyphs">선재</text>
<text x="390.8" y="430.55" font-size="15.1" text-anchor="start" font-weight="normal" fill="#000" textLength="40.34" lengthAdjust="spacingAndGlyphs">베이징</text>
<text x="390.3" y="451.75" font-size="15.1" text-anchor="start" font-weight="normal" fill="#000" textLength="39.96" lengthAdjust="spacingAndGlyphs">광저우</text>
<text x="390.4" y="471.6" font-size="15.1" text-anchor="start" font-weight="normal" fill="#000" textLength="40.15" lengthAdjust="spacingAndGlyphs">상하이</text>
<text x="390.4" y="491.8" font-size="15.1" text-anchor="start" font-weight="normal" fill="#000" textLength="27.58" lengthAdjust="spacingAndGlyphs">선전</text>
<text x="841.1" y="430.0" font-size="15.5" text-anchor="start" font-weight="normal" fill="#000" textLength="34.58" lengthAdjust="spacingAndGlyphs">`24년</text>
<text x="841.1" y="449.2" font-size="15.5" text-anchor="start" font-weight="normal" fill="#000" textLength="34.58" lengthAdjust="spacingAndGlyphs">`23년</text>
<text x="841.1" y="468.2" font-size="15.5" text-anchor="start" font-weight="normal" fill="#000" textLength="34.58" lengthAdjust="spacingAndGlyphs">`22년</text>
<text x="841.0" y="487.85" font-size="15.5" text-anchor="start" font-weight="normal" fill="#000" textLength="35.2" lengthAdjust="spacingAndGlyphs">`21년</text>
<text x="841.0" y="506.9" font-size="15.5" text-anchor="start" font-weight="normal" fill="#000" textLength="35.2" lengthAdjust="spacingAndGlyphs">`20년</text>
<text x="33.6" y="102.2" font-size="15.8" text-anchor="start" font-weight="normal" fill="#000" textLength="38.65" lengthAdjust="spacingAndGlyphs">1,100</text>
<text x="45.8" y="150.15" font-size="15.8" text-anchor="start" font-weight="normal" fill="#000" textLength="25.88" lengthAdjust="spacingAndGlyphs">950</text>
<text x="45.8" y="198.1" font-size="15.8" text-anchor="start" font-weight="normal" fill="#000" textLength="25.88" lengthAdjust="spacingAndGlyphs">800</text>
<text x="45.8" y="246.05" font-size="15.8" text-anchor="start" font-weight="normal" fill="#000" textLength="25.88" lengthAdjust="spacingAndGlyphs">650</text>
<text x="45.8" y="294.0" font-size="15.8" text-anchor="start" font-weight="normal" fill="#000" textLength="25.88" lengthAdjust="spacingAndGlyphs">500</text>
<text x="406.4" y="102.2" font-size="15.8" text-anchor="start" font-weight="normal" fill="#000" textLength="38.65" lengthAdjust="spacingAndGlyphs">2,500</text>
<text x="406.4" y="150.15" font-size="15.8" text-anchor="start" font-weight="normal" fill="#000" textLength="38.65" lengthAdjust="spacingAndGlyphs">2,000</text>
<text x="406.4" y="198.1" font-size="15.8" text-anchor="start" font-weight="normal" fill="#000" textLength="38.65" lengthAdjust="spacingAndGlyphs">1,500</text>
<text x="406.4" y="246.05" font-size="15.8" text-anchor="start" font-weight="normal" fill="#000" textLength="38.65" lengthAdjust="spacingAndGlyphs">1,000</text>
<text x="406.4" y="294.0" font-size="15.8" text-anchor="start" font-weight="normal" fill="#000" textLength="25.88" lengthAdjust="spacingAndGlyphs">500</text>
<text x="499.7" y="94.1" font-size="15.8" text-anchor="start" font-weight="normal" fill="#000" textLength="38.65" lengthAdjust="spacingAndGlyphs">5,000</text>
<text x="500.7" y="143.9" font-size="15.8" text-anchor="start" font-weight="normal" fill="#000" textLength="36.62" lengthAdjust="spacingAndGlyphs">4,500</text>
<text x="500.7" y="193.7" font-size="15.8" text-anchor="start" font-weight="normal" fill="#000" textLength="36.62" lengthAdjust="spacingAndGlyphs">4,000</text>
<text x="499.7" y="243.5" font-size="15.8" text-anchor="start" font-weight="normal" fill="#000" textLength="38.65" lengthAdjust="spacingAndGlyphs">3,500</text>
<text x="499.7" y="293.3" font-size="15.8" text-anchor="start" font-weight="normal" fill="#000" textLength="38.65" lengthAdjust="spacingAndGlyphs">3,000</text>
<text x="32.5" y="456.6" font-size="15.8" text-anchor="start" font-weight="normal" fill="#000" textLength="25.88" lengthAdjust="spacingAndGlyphs">300</text>
<text x="32.5" y="490.23" font-size="15.8" text-anchor="start" font-weight="normal" fill="#000" textLength="25.88" lengthAdjust="spacingAndGlyphs">250</text>
<text x="32.5" y="523.86" font-size="15.8" text-anchor="start" font-weight="normal" fill="#000" textLength="25.88" lengthAdjust="spacingAndGlyphs">200</text>
<text x="32.5" y="557.49" font-size="15.8" text-anchor="start" font-weight="normal" fill="#000" textLength="25.88" lengthAdjust="spacingAndGlyphs">150</text>
<text x="32.5" y="591.12" font-size="15.8" text-anchor="start" font-weight="normal" fill="#000" textLength="25.88" lengthAdjust="spacingAndGlyphs">100</text>
<text x="40.8" y="624.75" font-size="15.8" text-anchor="start" font-weight="normal" fill="#000" textLength="17.73" lengthAdjust="spacingAndGlyphs">50</text>
<text x="49.1" y="658.38" font-size="15.8" text-anchor="start" font-weight="normal" fill="#000" textLength="9.71" lengthAdjust="spacingAndGlyphs">0</text>
<text x="499.7" y="457.8" font-size="15.8" text-anchor="start" font-weight="normal" fill="#000" textLength="25.88" lengthAdjust="spacingAndGlyphs">800</text>
<text x="499.7" y="506.78" font-size="15.8" text-anchor="start" font-weight="normal" fill="#000" textLength="25.88" lengthAdjust="spacingAndGlyphs">700</text>
<text x="499.7" y="555.76" font-size="15.8" text-anchor="start" font-weight="normal" fill="#000" textLength="25.88" lengthAdjust="spacingAndGlyphs">600</text>
<text x="499.7" y="604.74" font-size="15.8" text-anchor="start" font-weight="normal" fill="#000" textLength="25.88" lengthAdjust="spacingAndGlyphs">500</text>
<text x="500.7" y="653.72" font-size="15.8" text-anchor="start" font-weight="normal" fill="#000" textLength="24.82" lengthAdjust="spacingAndGlyphs">400</text>
<text x="67.0" y="310.9" font-size="15.8" text-anchor="start" font-weight="normal" fill="#000" textLength="40.77" lengthAdjust="spacingAndGlyphs">01/24</text>
<text x="132.3" y="310.9" font-size="15.8" text-anchor="start" font-weight="normal" fill="#000" textLength="40.77" lengthAdjust="spacingAndGlyphs">03/24</text>
<text x="197.6" y="310.9" font-size="15.8" text-anchor="start" font-weight="normal" fill="#000" textLength="40.77" lengthAdjust="spacingAndGlyphs">05/24</text>
<text x="262.9" y="310.9" font-size="15.8" text-anchor="start" font-weight="normal" fill="#000" textLength="40.77" lengthAdjust="spacingAndGlyphs">07/24</text>
<text x="328.2" y="310.9" font-size="15.8" text-anchor="start" font-weight="normal" fill="#000" textLength="40.77" lengthAdjust="spacingAndGlyphs">09/24</text>
<text x="534.1" y="311.1" font-size="15.8" text-anchor="start" font-weight="normal" fill="#000" textLength="40.77" lengthAdjust="spacingAndGlyphs">01/24</text>
<text x="643.55" y="311.1" font-size="15.8" text-anchor="start" font-weight="normal" fill="#000" textLength="40.77" lengthAdjust="spacingAndGlyphs">04/24</text>
<text x="753.0" y="311.1" font-size="15.8" text-anchor="start" font-weight="normal" fill="#000" textLength="40.77" lengthAdjust="spacingAndGlyphs">07/24</text>
<text x="862.45" y="311.1" font-size="15.8" text-anchor="start" font-weight="normal" fill="#000" textLength="40.77" lengthAdjust="spacingAndGlyphs">10/24</text>
<text x="53.7" y="675.9" font-size="15.8" text-anchor="start" font-weight="normal" fill="#000" textLength="41.77" lengthAdjust="spacingAndGlyphs">01/22</text>
<text x="124.3" y="675.9" font-size="15.8" text-anchor="start" font-weight="normal" fill="#000" textLength="41.77" lengthAdjust="spacingAndGlyphs">07/22</text>
<text x="194.9" y="675.9" font-size="15.8" text-anchor="start" font-weight="normal" fill="#000" textLength="41.77" lengthAdjust="spacingAndGlyphs">01/23</text>
<text x="265.5" y="675.9" font-size="15.8" text-anchor="start" font-weight="normal" fill="#000" textLength="41.77" lengthAdjust="spacingAndGlyphs">07/23</text>
<text x="336.1" y="675.9" font-size="15.8" text-anchor="start" font-weight="normal" fill="#000" textLength="40.77" lengthAdjust="spacingAndGlyphs">01/24</text>
<text x="406.7" y="675.9" font-size="15.8" text-anchor="start" font-weight="normal" fill="#000" textLength="40.77" lengthAdjust="spacingAndGlyphs">07/24</text>
<text x="547.7" y="672.15" font-size="15.6" text-anchor="start" font-weight="normal" fill="#000" textLength="21.92" lengthAdjust="spacingAndGlyphs">1월</text>
<text x="610.6" y="672.15" font-size="15.6" text-anchor="start" font-weight="normal" fill="#000" textLength="21.92" lengthAdjust="spacingAndGlyphs">3월</text>
<text x="673.5" y="672.15" font-size="15.6" text-anchor="start" font-weight="normal" fill="#000" textLength="21.92" lengthAdjust="spacingAndGlyphs">5월</text>
<text x="736.4" y="672.15" font-size="15.6" text-anchor="start" font-weight="normal" fill="#000" textLength="21.92" lengthAdjust="spacingAndGlyphs">7월</text>
<text x="799.3" y="672.15" font-size="15.6" text-anchor="start" font-weight="normal" fill="#000" textLength="21.92" lengthAdjust="spacingAndGlyphs">9월</text>
<text x="858.1" y="672.15" font-size="15.6" text-anchor="start" font-weight="normal" fill="#000" textLength="30.83" lengthAdjust="spacingAndGlyphs">11월</text>
<text x="21.5" y="338.1" font-size="17.2" text-anchor="start" font-weight="normal" fill="#000" textLength="32.06" lengthAdjust="spacingAndGlyphs">자료:</text>
<text x="60.6" y="338.1" font-size="17.2" text-anchor="start" font-weight="normal" fill="#000" textLength="70.62" lengthAdjust="spacingAndGlyphs">KoreaPDS,</text>
<text x="136.8" y="338.1" font-size="17.2" text-anchor="start" font-weight="normal" fill="#000" textLength="83.84" lengthAdjust="spacingAndGlyphs">신한투자증권</text>
<text x="488.9" y="338.1" font-size="17.2" text-anchor="start" font-weight="normal" fill="#000" textLength="32.48" lengthAdjust="spacingAndGlyphs">자료:</text>
<text x="527.4" y="338.1" font-size="17.2" text-anchor="start" font-weight="normal" fill="#000" textLength="78.95" lengthAdjust="spacingAndGlyphs">Bloomberg,</text>
<text x="611.8" y="338.1" font-size="17.2" text-anchor="start" font-weight="normal" fill="#000" textLength="84.85" lengthAdjust="spacingAndGlyphs">신한투자증권</text>
<text x="21.3" y="703.4" font-size="17.2" text-anchor="start" font-weight="normal" fill="#000" textLength="32.27" lengthAdjust="spacingAndGlyphs">자료:</text>
<text x="60.3" y="703.4" font-size="17.2" text-anchor="start" font-weight="normal" fill="#000" textLength="35.98" lengthAdjust="spacingAndGlyphs">CREI,</text>
<text x="101.5" y="703.4" font-size="17.2" text-anchor="start" font-weight="normal" fill="#000" textLength="84.44" lengthAdjust="spacingAndGlyphs">신한투자증권</text>
<text x="488.9" y="703.4" font-size="17.2" text-anchor="start" font-weight="normal" fill="#000" textLength="32.48" lengthAdjust="spacingAndGlyphs">자료:</text>
<text x="527.4" y="703.4" font-size="17.2" text-anchor="start" font-weight="normal" fill="#000" textLength="78.95" lengthAdjust="spacingAndGlyphs">Bloomberg,</text>
<text x="611.8" y="703.4" font-size="17.2" text-anchor="start" font-weight="normal" fill="#000" textLength="84.85" lengthAdjust="spacingAndGlyphs">신한투자증권</text>
</svg></body></html>
